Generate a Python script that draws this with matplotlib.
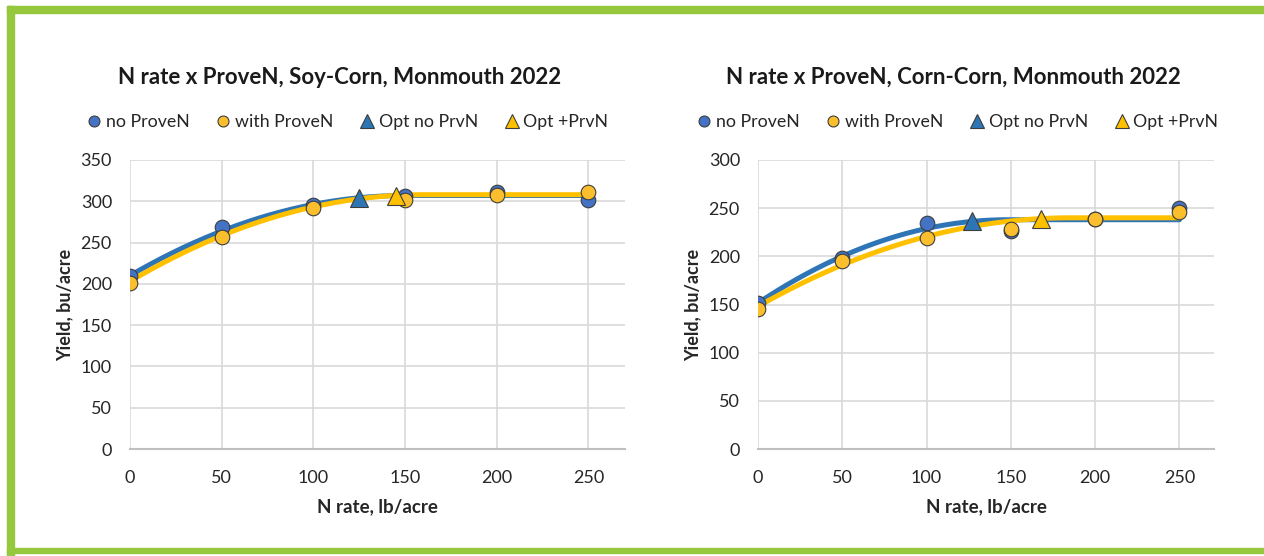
import numpy as np
import matplotlib
matplotlib.use("Agg")
import matplotlib.pyplot as plt
from matplotlib.patches import Rectangle

plt.rcParams['font.family'] = ['Lato', 'DejaVu Sans']

# ---- data ----
n_rates = [0, 50, 100, 150, 200, 250]

sc_title = "N rate x ProveN, Soy-Corn, Monmouth 2022"
sc_no = [209, 269, 296, 306, 311, 301]
sc_with = [201, 257, 292, 301, 308, 311]
sc_opt_no = (125, 304)
sc_opt_with = (145, 306)
# quadratic-plateau fits: (intercept, join N, plateau)
sc_fit_no = (210, 150, 307)
sc_fit_with = (203, 160, 308)

cc_title = "N rate x ProveN, Corn-Corn, Monmouth 2022"
cc_no = [152, 198, 235, 226, 239, 250]
cc_with = [145, 195, 219, 228, 239, 246]
cc_opt_no = (127, 237)
cc_opt_with = (168, 239)
cc_fit_no = (151.5, 148, 238)
cc_fit_with = (148, 185, 240)

sc_yticks = [0, 50, 100, 150, 200, 250, 300, 350]
cc_yticks = [0, 50, 100, 150, 200, 250, 300]
xticks = [0, 50, 100, 150, 200, 250]

legend_labels = ["no ProveN", "with ProveN", "Opt no PrvN", "Opt +PrvN"]

BLUE_LINE = "#2e75b6"
BLUE_MK = "#4472c4"
YEL_LINE = "#ffc000"
YEL_MK = "#fbbf2d"
EDGE = "#3d3d3d"


def qp_curve(fit, xmax=250):
    a, x0, p = fit
    x = np.linspace(0, xmax, 300)
    c = -(p - a) / x0 ** 2
    b = 2 * (p - a) / x0
    y = np.where(x < x0, a + b * x + c * x ** 2, p)
    return x, y


fig = plt.figure(figsize=(12.64, 5.56), dpi=100)

# green frame
GREEN = "#95c83d"
fig.patches.append(Rectangle((7 / 1264, 1 - 13 / 556), 1 - 7 / 1264, 7 / 556,
                             transform=fig.transFigure, color=GREEN, zorder=0))
fig.patches.append(Rectangle((7 / 1264, 0), 7 / 1264, 1 - 6 / 556,
                             transform=fig.transFigure, color=GREEN, zorder=0))
fig.patches.append(Rectangle((7 / 1264, 3 / 556), 1 - 7 / 1264, 5 / 556,
                             transform=fig.transFigure, color=GREEN, zorder=0))


def draw(rect, title, no, wi, opt_no, opt_wi, fit_no, fit_wi, yticks, ymax, xmax, title_x, leg_x):
    ax = fig.add_axes(rect)
    xb, yb = qp_curve(fit_no)
    xy, yy = qp_curve(fit_wi)
    ax.plot(xb, yb, color=BLUE_LINE, lw=3.6, zorder=2, solid_capstyle='round')
    ax.plot(xy, yy, color=YEL_LINE, lw=3.6, zorder=3, solid_capstyle='round')
    h1, = ax.plot(n_rates, no, 'o', ms=10.5, mfc=BLUE_MK, mec=EDGE, mew=0.8, zorder=4)
    h2, = ax.plot(n_rates, wi, 'o', ms=10.5, mfc=YEL_MK, mec=EDGE, mew=0.8, zorder=5)
    h3, = ax.plot([opt_no[0]], [opt_no[1]], '^', ms=12.5, mfc=BLUE_LINE, mec=EDGE, mew=0.8, zorder=6)
    h4, = ax.plot([opt_wi[0]], [opt_wi[1]], '^', ms=12.5, mfc=YEL_LINE, mec=EDGE, mew=0.8, zorder=6)
    ax.set_xlim(0, xmax)
    ax.set_ylim(0, ymax)
    ax.set_xticks(xticks)
    ax.set_yticks(yticks)
    ax.grid(True, color="#d9d9d9", lw=1.2)
    ax.set_axisbelow(True)
    for s in ['top', 'right', 'left']:
        ax.spines[s].set_visible(False)
    ax.spines['bottom'].set_color("#bfbfbf")
    ax.spines['bottom'].set_linewidth(1.5)
    ax.tick_params(length=0, labelsize=13, colors="#262626")
    ax.tick_params(axis='x', pad=15)
    ax.tick_params(axis='y', pad=13)
    ax.set_xlabel("N rate, lb/acre", fontsize=13.5, fontweight='bold', color="#262626", labelpad=9)
    ax.set_ylabel("Yield, bu/acre", fontsize=13, fontweight='bold', color="#262626", labelpad=5)
    fig.text(title_x, 1 - 77 / 556, title, ha='center', va='center', fontsize=16,
             fontweight='bold', color="#1a1a1a")
    leg = fig.legend([h1, h2, h3, h4], legend_labels, loc='center',
                     bbox_to_anchor=(leg_x, 1 - 122 / 556), ncol=4, frameon=False,
                     fontsize=12.8, handletextpad=0.05, columnspacing=1.3,
                     markerscale=0.75, handlelength=1.2)
    for t in leg.get_texts():
        t.set_color("#262626")
    return ax


y0 = 1 - 449 / 556
h = (449 - 160) / 556
draw([130 / 1264, y0, 495 / 1264, h], sc_title, sc_no, sc_with, sc_opt_no, sc_opt_with,
     sc_fit_no, sc_fit_with, sc_yticks, 350, 270, 340 / 1264, 346 / 1264)
draw([758 / 1264, y0, 456 / 1264, h], cc_title, cc_no, cc_with, cc_opt_no, cc_opt_with,
     cc_fit_no, cc_fit_with, cc_yticks, 300, 270.5, 953 / 1264, 956 / 1264)

fig.savefig("out.png", dpi=100)
